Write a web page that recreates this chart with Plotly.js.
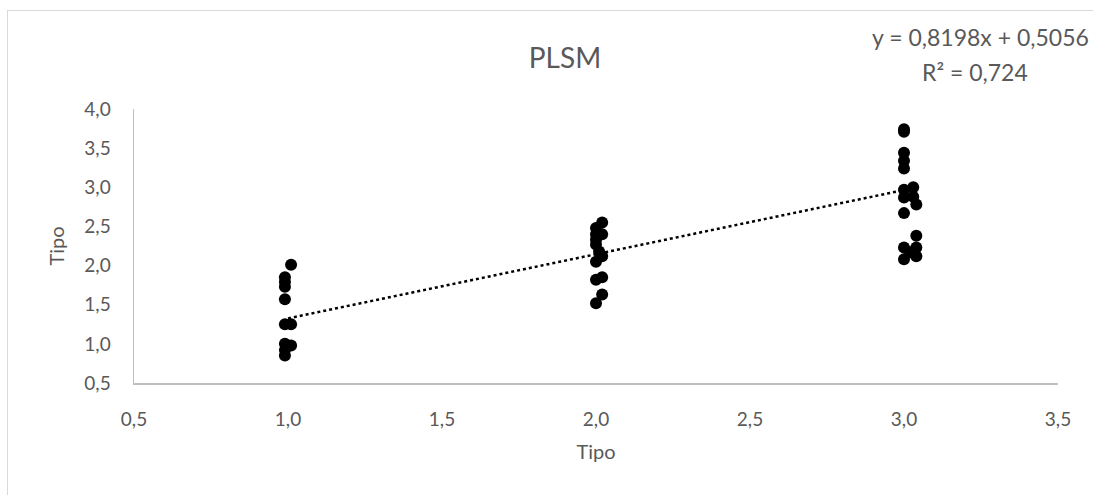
<!DOCTYPE html>
<html>
<head>
<meta charset="utf-8">
<script src="https://cdn.plot.ly/plotly-3.0.1.min.js"></script>
<style>
  html, body { margin: 0; padding: 0; background: #ffffff; overflow: hidden; }
  #chart { position: absolute; left: 0; top: 0; width: 1093px; height: 495px; }
  #frame { position: absolute; left: 7px; top: 10px; width: 1120px; height: 520px;
           border: 1.5px solid #d9d9d9; pointer-events: none; box-sizing: border-box; }
</style>
</head>
<body>
<div id="chart"></div>
<div id="frame"></div>
<script>
// Observed pairs (Tipo vs Tipo) for the PLSM scatter
const tipoX = [
  1.01, 0.99, 0.99, 0.99, 0.99, 0.99, 1.01, 0.99, 1.01, 0.99, 0.99,
  2.02, 2.00, 2.00, 2.02, 2.00, 2.00, 2.01, 2.02, 2.00, 2.02, 2.00, 2.02, 2.00,
  3.00, 3.00, 3.00, 3.00, 3.00, 3.00, 3.03, 3.00, 3.03, 3.04, 3.00, 3.04, 3.00, 3.04, 3.02, 3.04, 3.00
];
const tipoY = [
  2.01, 1.85, 1.79, 1.73, 1.57, 1.25, 1.25, 1.00, 0.98, 0.92, 0.85,
  2.55, 2.48, 2.40, 2.40, 2.33, 2.27, 2.18, 2.12, 2.05, 1.85, 1.82, 1.63, 1.52,
  3.74, 3.71, 3.44, 3.34, 3.24, 2.97, 3.00, 2.87, 2.88, 2.78, 2.67, 2.38, 2.23, 2.23, 2.17, 2.12, 2.08
];

// Linear trendline coefficients shown in the equation label
const slope = 0.8198;
const intercept = 0.5056;
const rSquared = 0.724;

const axisTicks = [0.5, 1.0, 1.5, 2.0, 2.5, 3.0, 3.5, 4.0];
const tickText = axisTicks.map(v => v.toFixed(1).replace('.', ','));

const fmt = (v, d) => v.toFixed(d).replace('.', ',');

const xMin = Math.min(...tipoX.map(Math.round));
const xMax = Math.max(...tipoX.map(Math.round));
const trendX = [xMin, xMax];
const trendY = trendX.map(x => slope * x + intercept);

const FONT = 'Lato, "Open Sans", sans-serif';
const GREY = '#595959';

const traces = [
  {
    x: tipoX, y: tipoY, type: 'scatter', mode: 'markers',
    marker: { color: '#000000', size: 12 },
    hoverinfo: 'x+y'
  },
  {
    x: trendX, y: trendY, type: 'scatter', mode: 'lines',
    line: { color: '#000000', width: 2.5, dash: 'dot' },
    hoverinfo: 'skip'
  }
];

const axisBase = {
  showgrid: false, zeroline: false, showline: true,
  linecolor: '#bfbfbf', linewidth: 1.5,
  ticks: '', tickmode: 'array',
  tickfont: { family: FONT, size: 19, color: GREY }
};

const layout = {
  width: 1093, height: 495,
  margin: { l: 134, r: 35, t: 109, b: 112 },
  paper_bgcolor: 'rgba(0,0,0,0)', plot_bgcolor: '#ffffff',
  showlegend: false,
  title: {
    text: 'PLSM', font: { family: FONT, size: 28, color: GREY },
    x: 565 / 1093, xref: 'container', xanchor: 'center',
    y: 1 - 58 / 495, yref: 'container', yanchor: 'middle'
  },
  xaxis: Object.assign({}, axisBase, {
    range: [0.5, 3.5],
    tickvals: axisTicks.slice(0, 7), ticktext: tickText.slice(0, 7),
    ticklabelstandoff: 19,
    title: { text: 'Tipo', font: { family: FONT, size: 20, color: GREY }, standoff: 15 }
  }),
  yaxis: Object.assign({}, axisBase, {
    range: [0.5, 4.0],
    tickvals: axisTicks, ticktext: tickText,
    ticklabelstandoff: 18,
    title: { text: 'Tipo', font: { family: FONT, size: 20, color: GREY }, standoff: 14 }
  }),
  annotations: [
    {
      text: 'y = ' + fmt(slope, 4) + 'x + ' + fmt(intercept, 4),
      showarrow: false, font: { family: FONT, size: 23, color: GREY }
    },
    {
      text: 'R² = ' + fmt(rSquared, 3),
      showarrow: false, font: { family: FONT, size: 23, color: GREY }
    }
  ]
};

// Place the equation labels in pixel terms relative to the plot area
const plotW = 1093 - layout.margin.l - layout.margin.r;
const plotH = 495 - layout.margin.t - layout.margin.b;
const px2x = px => (px - layout.margin.l) / plotW;
const py2y = py => (495 - layout.margin.b - py) / plotH;
Object.assign(layout.annotations[0], { xref: 'paper', yref: 'paper', x: px2x(1091), y: py2y(37), xanchor: 'right', yanchor: 'middle' });
Object.assign(layout.annotations[1], { xref: 'paper', yref: 'paper', x: px2x(975), y: py2y(72), xanchor: 'center', yanchor: 'middle' });

Plotly.newPlot('chart', traces, layout, { displayModeBar: false, staticPlot: true });
</script>
</body>
</html>
